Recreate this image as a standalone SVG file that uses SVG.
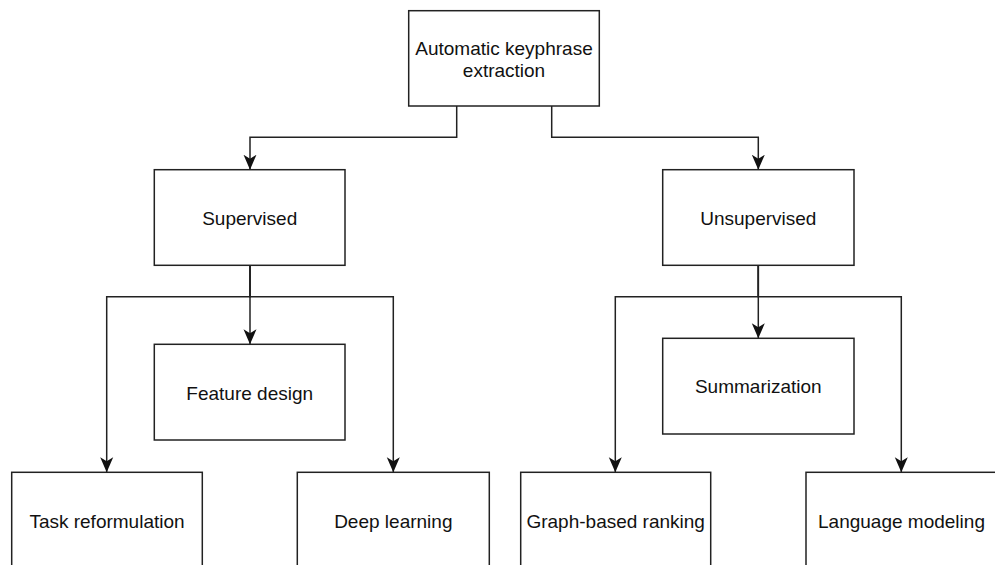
<svg xmlns="http://www.w3.org/2000/svg" width="995" height="565" viewBox="0 0 995 565">
<defs>
<marker id="arr" markerUnits="userSpaceOnUse" markerWidth="15" markerHeight="14" viewBox="0 0 15 14" refX="15" refY="7" orient="auto">
<path d="M0,0.5 L15,7 L0,13.5 L4,7 Z" fill="#111"/>
</marker>
<style>
.box{fill:#fff;stroke:#222;stroke-width:1.5}
.lbl{font-family:"Liberation Sans",Arial,sans-serif;font-size:19px;fill:#111;text-anchor:middle}
.edge{fill:none;stroke:#222;stroke-width:1.5;marker-end:url(#arr)}
</style>
</defs>
<rect width="995" height="565" fill="#fff"/>
<g id="connectors">
<path class="edge" d="M456.7,106 V137.3 H250 V169.7"/>
<path class="edge" d="M551.7,106 V137.3 H758.3 V169.7"/>
<path class="edge" d="M250,265.3 V344.3"/>
<path class="edge" d="M250,265.3 V296.7 H106.7 V472.3"/>
<path class="edge" d="M250,265.3 V296.7 H393.3 V472.3"/>
<path class="edge" d="M758.3,265.3 V338.3"/>
<path class="edge" d="M758.3,265.3 V296.7 H615.3 V472.3"/>
<path class="edge" d="M758.3,265.3 V296.7 H901.3 V472.3"/>
</g>
<g id="root">
<rect class="box" x="408.7" y="10.7" width="190.6" height="95.3"/>
<text class="lbl" x="504" y="55">Automatic keyphrase</text>
<text class="lbl" x="504" y="77">extraction</text>
</g>
<g id="supervised">
<rect class="box" x="154.3" y="169.7" width="190.7" height="95.6"/>
<text class="lbl" x="249.7" y="224.5">Supervised</text>
</g>
<g id="unsupervised">
<rect class="box" x="662.7" y="169.7" width="191.3" height="95.6"/>
<text class="lbl" x="758.3" y="224.5">Unsupervised</text>
</g>
<g id="feature-design">
<rect class="box" x="154.3" y="344.3" width="190.7" height="95.7"/>
<text class="lbl" x="249.7" y="399.5">Feature design</text>
</g>
<g id="summarization">
<rect class="box" x="662.7" y="338.3" width="191.3" height="95.7"/>
<text class="lbl" x="758.3" y="393">Summarization</text>
</g>
<g id="task-reformulation">
<rect class="box" x="11.7" y="472.3" width="190.6" height="95.7"/>
<text class="lbl" x="107" y="527.5">Task reformulation</text>
</g>
<g id="deep-learning">
<rect class="box" x="297.3" y="472.3" width="192" height="95.7"/>
<text class="lbl" x="393.3" y="527.5">Deep learning</text>
</g>
<g id="graph-based-ranking">
<rect class="box" x="520.7" y="472.3" width="190" height="95.7"/>
<text class="lbl" x="615.7" y="527.5">Graph-based ranking</text>
</g>
<g id="language-modeling">
<rect class="box" x="806" y="472.3" width="191" height="95.7"/>
<text class="lbl" x="901.5" y="527.5">Language modeling</text>
</g>
</svg>
